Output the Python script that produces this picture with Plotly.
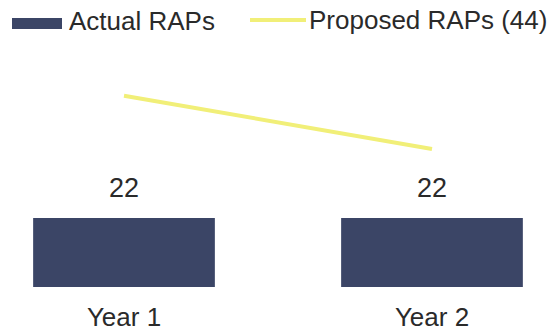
import plotly.graph_objects as go

categories = ["Year 1", "Year 2"]
actual = [22, 22]
proposed = [61, 44]
actual_labels = ["22", "22"]
series_names = ["Actual RAPs", "Proposed RAPs (44)"]

BAR = "#3b4566"
LINE = "#f1ef78"
TEXT = "#2a2a2a"
FONT = "Liberation Sans, Arial, sans-serif"

W, H = 553, 333
T, B = 60, 46

fig = go.Figure()
fig.add_trace(go.Bar(x=categories, y=actual, name=series_names[0],
                     marker=dict(color=BAR, line=dict(width=0)), width=0.59,
                     showlegend=False))
fig.add_trace(go.Scatter(x=categories, y=proposed, name=series_names[1],
                         mode="lines", line=dict(color=LINE, width=4),
                         showlegend=False))

for c, v, t in zip(categories, actual, actual_labels):
    fig.add_annotation(x=c, y=v, text=t, showarrow=False, yanchor="bottom",
                       yshift=13, font=dict(size=27, color=TEXT, family=FONT))

# Legend with wide swatches as in the original (paper coords = plot area)
def px(x):
    return x / W
def py(y):
    return (H - B - y) / (H - T - B)

fig.add_shape(type="rect", xref="paper", yref="paper",
              x0=px(12), x1=px(62), y0=py(29), y1=py(18),
              fillcolor=BAR, line=dict(width=0))
fig.add_annotation(xref="paper", yref="paper", x=px(67), y=py(21), text=series_names[0],
                   showarrow=False, xanchor="left", yanchor="middle",
                   font=dict(size=26, color=TEXT, family=FONT))
fig.add_shape(type="line", xref="paper", yref="paper",
              x0=px(250), x1=px(306), y0=py(20), y1=py(20),
              line=dict(color=LINE, width=4))
fig.add_annotation(xref="paper", yref="paper", x=px(307), y=py(20), text=series_names[1],
                   showarrow=False, xanchor="left", yanchor="middle",
                   font=dict(size=26, color=TEXT, family=FONT))

fig.update_layout(
    width=W, height=H,
    margin=dict(l=0, r=0, t=T, b=B),
    paper_bgcolor="white", plot_bgcolor="white",
    font=dict(family=FONT, size=26, color=TEXT),
    showlegend=False,
    xaxis=dict(range=[-0.4026, 1.3929], showgrid=False, zeroline=False,
               showline=False, ticks="", tickfont=dict(size=26, color=TEXT),
               ticklabelstandoff=12, automargin=False),
    yaxis=dict(range=[0, 72.4], visible=False, automargin=False),
)

fig.write_html("out.html")
